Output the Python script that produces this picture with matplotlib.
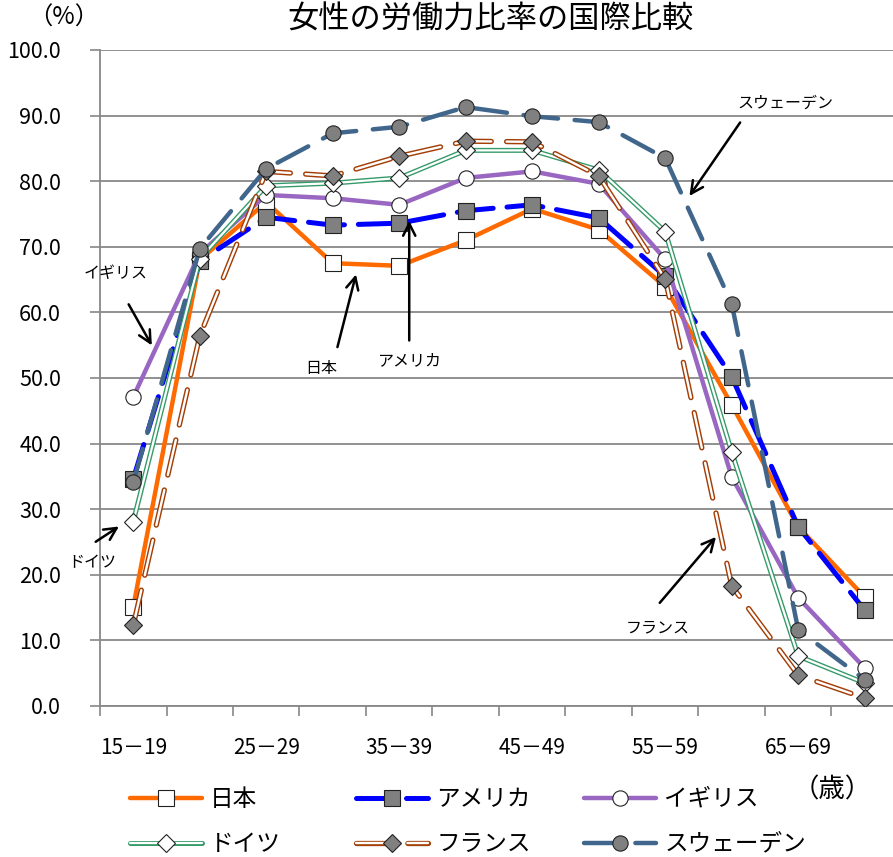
import numpy as np
import matplotlib
matplotlib.use("Agg")
import matplotlib.pyplot as plt
import matplotlib.patheffects as pe
from matplotlib.legend_handler import HandlerTuple

plt.rcParams['font.family'] = ['Noto Sans CJK JP', 'DejaVu Sans']
plt.rcParams['lines.scale_dashes'] = False

# age groups (every other one is labelled on the axis)
ages = ['15－19', '20－24', '25－29', '30－34', '35－39', '40－44',
        '45－49', '50－54', '55－59', '60－64', '65－69', '70－74']

# labour force participation rate of women (%)
japan = [15.1, 68.0, 76.8, 67.5, 67.1, 71.0, 75.8, 72.6, 63.9, 45.9, 27.3, 16.6]
usa = [34.6, 67.8, 74.5, 73.3, 73.6, 75.5, 76.4, 74.4, 65.5, 50.2, 27.3, 14.6]
uk = [47.1, 69.0, 77.9, 77.4, 76.4, 80.5, 81.5, 79.6, 68.1, 34.9, 16.5, 5.8]
germany = [28.1, 68.2, 79.3, 79.7, 80.5, 84.7, 84.7, 81.7, 72.3, 38.7, 7.6, 3.5]
france = [12.3, 56.4, 81.5, 80.8, 83.8, 86.1, 86.0, 80.8, 65.1, 18.3, 4.7, 1.2]
sweden = [34.1, 69.7, 81.9, 87.3, 88.3, 91.3, 89.9, 89.0, 83.5, 61.3, 11.6, 4.0]

names = ['日本', 'アメリカ', 'イギリス', 'ドイツ', 'フランス', 'スウェーデン']

fig = plt.figure(figsize=(8.93, 8.57), dpi=100)
ax = fig.add_axes([100 / 893, 151 / 857, 798 / 893, 656 / 857])

x = np.arange(len(ages)) + 0.5


def draw(vals, color, marker, mfc, ls, lw, ms, z, double=False):
    line, = ax.plot(x, vals, color=color, lw=lw, linestyle=ls,
                    solid_capstyle='round', dash_capstyle='round',
                    solid_joinstyle='round', zorder=z)
    if double:
        line.set_path_effects([pe.Stroke(linewidth=lw, foreground=color),
                               pe.Stroke(linewidth=lw * 0.45, foreground='white')])
    pts, = ax.plot(x, vals, ls='none', marker=marker, ms=ms, mfc=mfc,
                   mec='#222222', mew=0.8, zorder=z + 0.05)
    return (line, pts)


h_jp = draw(japan, '#FF6A00', 's', 'white', '-', 3.2, 11, 3.0)
h_us = draw(usa, '#0000FF', 's', '#808080', (0, (26, 10)), 3.6, 11, 3.1)
h_uk = draw(uk, '#9966C2', 'o', 'white', '-', 3.2, 11, 3.2)
h_de = draw(germany, '#349A68', 'D', 'white', '-', 3.6, 9, 3.3, double=True)
h_fr = draw(france, '#A33E06', 'D', '#808080', (0, (26, 11)), 3.8, 9, 3.4, double=True)
h_se = draw(sweden, '#41668C', 'o', '#808080', (0, (25, 12)), 3.2, 11, 3.5)

ax.set_xlim(0, len(ages))
ax.set_ylim(0, 100)

ax.set_yticks(np.arange(0, 101, 10))
ax.set_yticklabels(['%.1f' % v for v in np.arange(0, 101, 10)], fontsize=15.5)
ax.tick_params(axis='y', length=7, width=1.2, color='#888888', pad=21)

ax.set_xticks(np.arange(len(ages) + 1))
ax.set_xticklabels([])
ax.set_xticks(x[::2], minor=True)
ax.set_xticklabels(ages[::2], minor=True, fontsize=15)
ax.tick_params(axis='x', which='major', length=7, width=1.2, color='#888888')
ax.tick_params(axis='x', which='minor', length=0, pad=22)

ax.yaxis.grid(True, color='#888888', lw=1.3)
ax.set_axisbelow(True)
for s in ['top', 'right']:
    ax.spines[s].set_visible(False)
for s in ['left', 'bottom']:
    ax.spines[s].set_color('#888888')
    ax.spines[s].set_linewidth(1.3)

fig.text(490 / 893, 1 - 20 / 857, '女性の労働力比率の国際比較', ha='center', va='center', fontsize=22.5)
fig.text(64 / 893, 1 - 18 / 857, '（%）', ha='center', va='center', fontsize=17.5)
fig.text(832 / 893, 1 - 790 / 857, '（歳）', ha='center', va='center', fontsize=19)

# arrows with country names
arrow = dict(arrowstyle='->', lw=1.8, color='black', mutation_scale=22)
notes = [
    ('スウェーデン', (10.3, 91.9), (9.65, 89.3), (8.84, 77.4)),
    ('イギリス', (0.24, 65.9), (0.41, 61.6), (0.80, 54.6)),
    ('日本', (3.32, 51.5), (3.56, 54.3), (3.86, 66.2)),
    ('アメリカ', (4.65, 52.7), (4.65, 55.3), (4.65, 74.4)),
    ('ドイツ', (-0.12, 21.8), (-0.10, 24.8), (0.32, 27.6)),
    ('フランス', (8.38, 11.9), (8.39, 15.4), (9.29, 26.1)),
]
for label, txt, tail, head in notes:
    ax.annotate('', xy=head, xytext=tail, arrowprops=arrow, annotation_clip=False, zorder=6)
    ax.text(txt[0], txt[1], label, ha='center', va='center', fontsize=11.5, zorder=6, clip_on=False)

# legend in three fixed columns
cols = [([h_jp, h_de], [names[0], names[3]], 130),
        ([h_us, h_fr], [names[1], names[4]], 356),
        ([h_uk, h_se], [names[2], names[5]], 584)]
for hs, labels, px in cols:
    fig.legend(hs, labels, loc='upper left', bbox_to_anchor=(px / 893, 1 - 788 / 857),
               frameon=False, fontsize=17, handlelength=3.05, handletextpad=0.35,
               labelspacing=0.95, borderpad=0, borderaxespad=0,
               handler_map={tuple: HandlerTuple(ndivide=1)})

fig.savefig('out.png', dpi=100)
